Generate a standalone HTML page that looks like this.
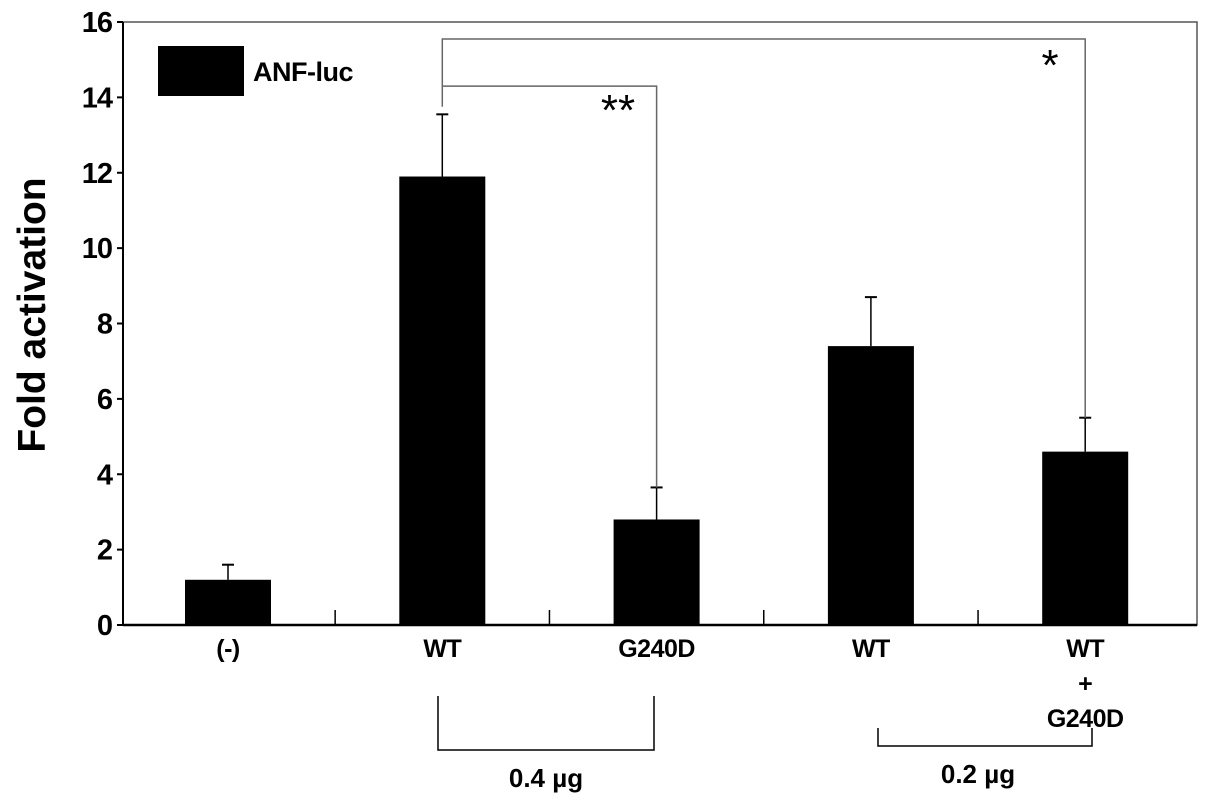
<!DOCTYPE html>
<html><head><meta charset="utf-8"><style>
body{margin:0;background:#fff}
svg{display:block;font-family:"Liberation Sans",Arial,sans-serif;font-weight:bold}
</style></head><body>
<svg id="c" width="1205" height="807"></svg>
<script>
const categories=["(-)","WT","G240D","WT","WT+G240D"];
const values=[1.2,11.9,2.8,7.4,4.6];
const errors=[0.4,1.65,0.85,1.3,0.9];
const yTicks=[0,2,4,6,8,10,12,14,16];
const NS="http://www.w3.org/2000/svg";
const svg=document.getElementById('c');
function y(v){return 625-v*(603/16);}
function x(i){return 228+i*214.3;}
function el(t,a,txt){const e=document.createElementNS(NS,t);for(const k in a)e.setAttribute(k,a[k]);if(txt!==undefined)e.textContent=txt;svg.appendChild(e);return e;}
let e;
e=el('rect',{x:123,y:22,width:1074,height:603,fill:'none',stroke:'#555','stroke-width':1.5});

e=el('line',{x1:123,y1:22,x2:123,y2:625,stroke:'#000','stroke-width':2});

e=el('line',{x1:123,y1:625,x2:1197,y2:625,stroke:'#000','stroke-width':2.5});

yTicks.forEach(t=>{
 e=el('line',{x1:117,y1:y(t),x2:123,y2:y(t),stroke:'#000','stroke-width':2});
 
 e=el('text',{x:112,y:y(t)+10,'text-anchor':'end','font-size':29,'letter-spacing':-1},String(t));
 
});
for(let i=0;i<categories.length-1;i++){
 const xm=(x(i)+x(i+1))/2;
 e=el('line',{x1:xm,y1:610,x2:xm,y2:625,stroke:'#000','stroke-width':1.5});
 
}
values.forEach((v,i)=>{
 const cx=x(i);
 e=el('line',{x1:cx,y1:y(v),x2:cx,y2:y(v+errors[i]),stroke:'#000','stroke-width':1.5});
 
 e=el('line',{x1:cx-6,y1:y(v+errors[i]),x2:cx+6,y2:y(v+errors[i]),stroke:'#000','stroke-width':2});
 
 e=el('rect',{x:cx-43,y:y(v),width:86,height:625-y(v),fill:'#000'});
 
});
const labs=[["(-)"],["WT"],["G240D"],["WT"],["WT","+","G240D"]];
labs.forEach((l,i)=>l.forEach((s,j)=>{
 e=el('text',{x:x(i),y:657+j*35,'text-anchor':'middle','font-size':25,'letter-spacing':-0.5},s);
 
}));
e=el('path',{d:`M${x(1)} ${y(13.75)}V${y(15.55)}H${x(4)}V${y(5.5)}M${x(1)} ${y(14.3)}H${x(2)}V${y(3.65)}`,fill:'none',stroke:'#666','stroke-width':1.5});

e=el('text',{x:618,y:125,'text-anchor':'middle','font-size':44,'font-weight':'normal'},"**");

e=el('text',{x:1050,y:80,'text-anchor':'middle','font-size':44,'font-weight':'normal'},"*");

e=el('rect',{x:158,y:46,width:86,height:50,fill:'#000'});

e=el('text',{x:253,y:81,'font-size':27,'letter-spacing':-0.5},"ANF-luc");

e=el('text',{x:0,y:0,'text-anchor':'middle','font-size':39,transform:'translate(45,315) rotate(-90)'},"Fold activation");

e=el('path',{d:'M438 696V750H654V696',fill:'none',stroke:'#000','stroke-width':1.5});

e=el('text',{x:546,y:787,'text-anchor':'middle','font-size':26},"0.4 µg");

e=el('path',{d:'M878 728V746H1092V728',fill:'none',stroke:'#000','stroke-width':1.5});

e=el('text',{x:978,y:783,'text-anchor':'middle','font-size':26},"0.2 µg");

</script>
</body></html>
